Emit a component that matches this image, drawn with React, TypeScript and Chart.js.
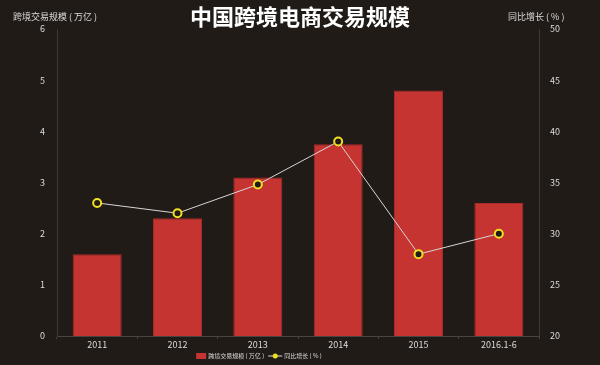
import React, { useEffect, useRef } from "react";
import { Chart, registerables } from "chart.js";

Chart.register(...registerables);

const categories = ["2011", "2012", "2013", "2014", "2015", "2016.1-6"];
const tradeScale = [1.6, 2.3, 3.1, 3.75, 4.8, 2.6];
const growthRate = [33.0, 32.0, 34.8, 39.0, 28.0, 30.0];
const leftTicks = [0, 1, 2, 3, 4, 5, 6];
const rightTicks = [20, 25, 30, 35, 40, 45, 50];

const TITLE = "中国跨境电商交易规模";
const LEFT_TITLE = "跨境交易规模 ( 万亿 )";
const RIGHT_TITLE = "同比增长 ( % )";
const BAR_LABEL = "跨境交易规模 ( 万亿 )";
const LINE_LABEL = "同比增长 ( % )";

const BG = "#211b17";
const BAR = "#c53431";
const YELLOW = "#f0e020";
const FONT = "'Noto Sans CJK SC', 'Noto Sans', sans-serif";

export default function App() {
  const ref = useRef<HTMLCanvasElement | null>(null);

  useEffect(() => {
    document.body.style.margin = "0";
    document.body.style.background = BG;
    const canvas = ref.current;
    if (!canvas) return;

    const decor = {
      id: "decor",
      beforeDraw(chart: any) {
        const { ctx, width, height } = chart;
        ctx.save();
        ctx.fillStyle = BG;
        ctx.fillRect(0, 0, width, height);
        ctx.restore();
      },
      afterDraw(chart: any) {
        const { ctx } = chart;
        ctx.save();
        ctx.fillStyle = "#ffffff";
        ctx.textAlign = "center";
        ctx.textBaseline = "middle";
        ctx.font = `bold 22px ${FONT}`;
        ctx.fillText(TITLE, 300, 17);

        ctx.font = `9px ${FONT}`;
        ctx.fillStyle = "#dcdcdc";
        ctx.textAlign = "left";
        ctx.fillText(LEFT_TITLE, 13, 17);
        ctx.fillText(RIGHT_TITLE, 508, 17);

        // legend
        const ly = 356;
        ctx.font = `6px ${FONT}`;
        ctx.textBaseline = "middle";
        const w1 = ctx.measureText(BAR_LABEL).width;
        const w2 = ctx.measureText(LINE_LABEL).width;
        const total = 10 + 2 + w1 + 4 + 14 + 2 + w2;
        let x = 259 - total / 2;
        ctx.fillStyle = BAR;
        ctx.fillRect(x, ly - 3, 10, 6);
        x += 12;
        ctx.fillStyle = "#dcdcdc";
        ctx.fillText(BAR_LABEL, x, ly);
        x += w1 + 4;
        ctx.strokeStyle = "#dcdcdc";
        ctx.lineWidth = 1;
        ctx.beginPath();
        ctx.moveTo(x, ly);
        ctx.lineTo(x + 14, ly);
        ctx.stroke();
        ctx.fillStyle = YELLOW;
        ctx.beginPath();
        ctx.arc(x + 7, ly, 2.5, 0, Math.PI * 2);
        ctx.fill();
        x += 16;
        ctx.fillStyle = "#dcdcdc";
        ctx.fillText(LINE_LABEL, x, ly);
        ctx.restore();
      },
    };

    const chart = new Chart(canvas, {
      type: "bar",
      data: {
        labels: categories,
        datasets: [
          {
            type: "line",
            label: LINE_LABEL,
            data: growthRate,
            yAxisID: "y1",
            borderColor: "#d6d6d6",
            borderWidth: 1,
            pointRadius: 4,
            pointBorderWidth: 2,
            pointBorderColor: YELLOW,
            pointBackgroundColor: BG,
            tension: 0,
            order: 0,
          } as any,
          {
            type: "bar",
            label: BAR_LABEL,
            data: tradeScale,
            yAxisID: "y",
            backgroundColor: BAR,
            borderColor: "#a82a28",
            borderWidth: 1,
            categoryPercentage: 1,
            barPercentage: 0.61,
            order: 1,
          } as any,
        ],
      },
      options: {
        animation: false,
        responsive: false,
        maintainAspectRatio: false,
        layout: { padding: { top: 29, left: 0, right: 0, bottom: 0 } },
        plugins: {
          legend: { display: false },
          title: { display: false },
          tooltip: { enabled: false },
        },
        scales: {
          x: {
            grid: {
              display: true,
              drawOnChartArea: false,
              drawTicks: true,
              tickLength: 3,
              color: "#4a4440",
              offset: true,
            },
            border: { display: true, color: "#4a4440" },
            ticks: { color: "#dcdcdc", font: { family: FONT, size: 9 }, padding: 0 },
            afterFit(scale: any) {
              scale.height = 29;
            },
          },
          y: {
            position: "left",
            min: 0,
            max: 6,
            afterBuildTicks(scale: any) {
              scale.ticks = leftTicks.map((v) => ({ value: v }));
            },
            grid: { display: false },
            border: { display: true, color: "#3e3834" },
            ticks: { color: "#dcdcdc", font: { family: FONT, size: 9 }, padding: 4 },
            afterFit(scale: any) {
              scale.width = 57;
            },
          },
          y1: {
            position: "right",
            min: 20,
            max: 50,
            afterBuildTicks(scale: any) {
              scale.ticks = rightTicks.map((v) => ({ value: v }));
            },
            grid: { display: false },
            border: { display: true, color: "#3e3834" },
            ticks: { color: "#dcdcdc", font: { family: FONT, size: 9 }, padding: 3 },
            afterFit(scale: any) {
              scale.width = 61;
            },
          },
        },
      },
      plugins: [decor],
    });

    return () => chart.destroy();
  }, []);

  return (
    <div style={{ width: 600, height: 365, background: BG }}>
      <canvas ref={ref} width={600} height={365} style={{ display: "block", width: 600, height: 365 }} />
    </div>
  );
}
